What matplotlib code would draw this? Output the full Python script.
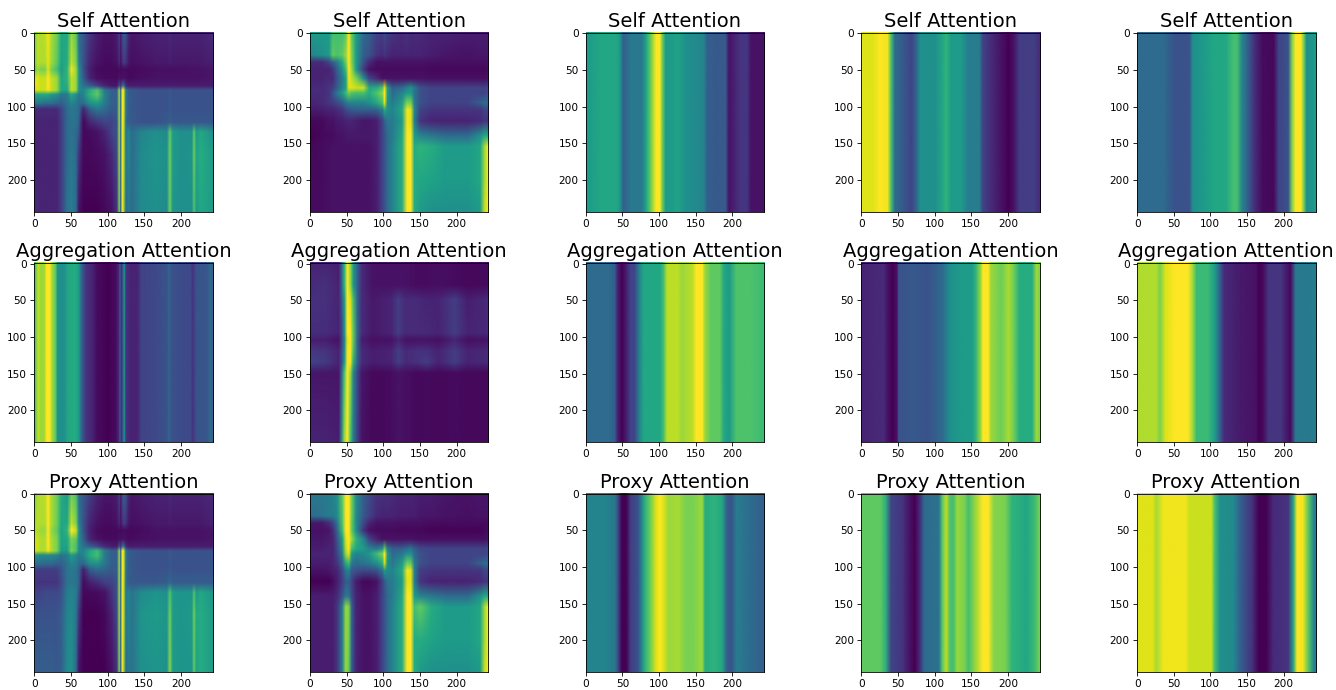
import numpy as np
import matplotlib
matplotlib.use("Agg")
import matplotlib.pyplot as plt
from matplotlib.image import NonUniformImage

titles = ["Self Attention", "Aggregation Attention", "Proxy Attention"]

# paneles con estructura 2D (columna 0 y 1): x, y y valores
xa = [0,4,8,14,18,22,30,36,44,50,56,60,66,75,85,95,105,112,115,117,119,121,124,128,132,145,165,180,184,188,200,214,217,220,226,243]
ya = [0,40,50,62,72,78,84,96,104,122,135,165,243]
self_a = [
    [.80,.90,.88,.90,.98,.88,.78,.60,.60,.85,.75,.35,.28,.15,.08,.05,.05,.08,.20,.08,.20,.30,.25,.10,.06,.08,.10,.10,.12,.10,.10,.10,.10,.10,.10,.12],
    [.80,.90,.88,.88,.96,.86,.75,.58,.62,.90,.80,.42,.26,.10,.05,.03,.03,.05,.12,.05,.12,.18,.15,.06,.04,.05,.07,.07,.08,.07,.07,.07,.07,.07,.07,.09],
    [.75,.85,.80,.80,.95,.80,.70,.55,.65,.98,.85,.50,.25,.08,.03,.02,.02,.02,.03,.02,.03,.03,.03,.02,.02,.03,.04,.04,.04,.04,.04,.05,.05,.05,.05,.06],
    [.95,.95,.92,.92,1.0,.92,.85,.60,.65,.90,.85,.50,.30,.10,.04,.03,.03,.03,.05,.04,.05,.05,.04,.03,.03,.04,.05,.05,.05,.05,.05,.05,.05,.05,.05,.06],
    [.95,.95,.92,.92,1.0,.92,.85,.60,.62,.90,.85,.50,.38,.30,.20,.10,.06,.06,.25,.15,.35,.40,.12,.08,.08,.08,.08,.08,.08,.08,.08,.08,.08,.08,.08,.08],
    [.90,.95,.92,.92,.98,.92,.85,.60,.60,.90,.85,.50,.45,.62,.72,.42,.30,.30,.85,.35,1.0,.95,.40,.30,.28,.25,.25,.25,.28,.25,.25,.25,.25,.25,.25,.25],
    [.60,.60,.60,.60,.60,.55,.50,.40,.40,.60,.50,.40,.45,.65,.75,.45,.30,.30,.85,.35,1.0,.95,.40,.30,.28,.25,.25,.25,.28,.25,.25,.25,.25,.25,.25,.25],
    [.38,.38,.38,.35,.35,.35,.32,.30,.38,.45,.42,.35,.35,.50,.55,.42,.30,.30,.85,.35,1.0,.95,.38,.30,.28,.25,.25,.25,.28,.25,.25,.25,.25,.25,.25,.25],
    [.12,.12,.12,.12,.12,.12,.12,.20,.35,.40,.38,.35,.10,.30,.40,.35,.28,.30,.85,.35,1.0,.95,.38,.30,.28,.25,.25,.25,.28,.25,.25,.25,.25,.25,.25,.25],
    [.10,.10,.10,.10,.10,.10,.10,.18,.35,.38,.38,.30,.02,.10,.15,.20,.20,.25,.85,.35,1.0,.92,.35,.30,.28,.25,.25,.28,.30,.28,.28,.28,.28,.28,.28,.28],
    [.10,.10,.10,.10,.10,.10,.10,.18,.35,.38,.35,.25,.02,.03,.05,.10,.20,.25,.85,.35,1.0,.90,.40,.45,.35,.45,.50,.48,.75,.55,.50,.50,.75,.55,.60,.50],
    [.10,.10,.10,.10,.10,.10,.10,.18,.35,.40,.35,.15,.02,.02,.03,.05,.12,.22,.85,.35,1.0,.90,.40,.45,.35,.48,.52,.50,.78,.55,.50,.52,.78,.58,.62,.55],
    [.12,.12,.10,.10,.10,.10,.10,.18,.38,.42,.35,.05,.00,.00,.00,.02,.05,.15,.80,.30,1.0,.85,.35,.40,.35,.48,.50,.48,.78,.52,.50,.50,.72,.55,.60,.55],
]
proxy_a = [
    [.80,.88,.88,.90,1.0,.88,.78,.62,.55,.78,.72,.35,.28,.18,.10,.06,.06,.08,.20,.08,.20,.32,.25,.10,.06,.08,.10,.10,.12,.10,.10,.10,.10,.10,.10,.12],
    [.85,.90,.88,.88,1.0,.88,.78,.60,.60,.90,.80,.42,.26,.10,.05,.03,.03,.05,.12,.05,.12,.18,.15,.06,.04,.05,.07,.07,.08,.07,.07,.07,.07,.07,.07,.09],
    [.88,.88,.85,.85,1.0,.85,.75,.58,.65,1.0,.92,.50,.25,.08,.03,.02,.02,.02,.03,.02,.03,.03,.03,.02,.02,.03,.05,.05,.05,.05,.05,.05,.05,.05,.05,.06],
    [.92,.92,.88,.88,1.0,.88,.80,.58,.60,.80,.75,.48,.32,.10,.05,.03,.03,.03,.05,.04,.05,.05,.04,.03,.03,.04,.05,.05,.05,.05,.05,.05,.05,.05,.05,.06],
    [.92,.92,.88,.88,1.0,.88,.80,.58,.58,.78,.72,.48,.38,.30,.22,.12,.08,.08,.25,.15,.35,.40,.12,.08,.08,.08,.08,.08,.08,.08,.08,.08,.08,.08,.08,.08],
    [.90,.92,.88,.88,.98,.88,.80,.55,.55,.80,.72,.48,.45,.60,.68,.42,.30,.30,.85,.35,1.0,.95,.40,.30,.28,.25,.25,.25,.28,.25,.25,.25,.25,.25,.25,.25],
    [.50,.50,.48,.48,.48,.48,.45,.38,.42,.55,.48,.40,.45,.62,.70,.42,.30,.30,.85,.35,1.0,.95,.40,.30,.28,.25,.25,.25,.28,.25,.25,.25,.25,.25,.25,.25],
    [.35,.35,.35,.33,.33,.33,.30,.30,.38,.45,.42,.35,.32,.48,.50,.40,.30,.30,.85,.35,1.0,.95,.38,.30,.28,.25,.25,.25,.28,.25,.25,.25,.25,.25,.25,.25],
    [.18,.18,.18,.18,.18,.18,.18,.25,.38,.40,.38,.32,.08,.28,.35,.32,.28,.30,.85,.35,1.0,.95,.38,.30,.28,.25,.25,.25,.28,.25,.25,.25,.25,.25,.25,.25],
    [.15,.15,.15,.15,.15,.15,.15,.22,.38,.40,.38,.30,.03,.08,.12,.18,.20,.25,.85,.35,1.0,.92,.35,.30,.28,.28,.28,.30,.35,.30,.30,.30,.30,.30,.30,.30],
    [.20,.20,.20,.22,.22,.22,.22,.25,.42,.45,.42,.25,.02,.02,.03,.05,.15,.25,.85,.35,1.0,.90,.40,.45,.38,.48,.52,.50,.72,.55,.52,.52,.72,.55,.60,.52],
    [.25,.25,.25,.25,.25,.25,.25,.30,.45,.48,.40,.15,.00,.00,.00,.02,.10,.22,.85,.35,1.0,.90,.40,.45,.38,.52,.55,.52,.78,.55,.52,.55,.78,.60,.62,.55],
    [.30,.30,.30,.30,.30,.30,.28,.30,.48,.50,.35,.05,.00,.00,.00,.00,.05,.15,.80,.30,1.0,.85,.35,.40,.38,.50,.52,.50,.82,.55,.52,.52,.75,.58,.62,.55],
]

xb = [0,15,25,30,36,43,48,52,56,62,72,80,90,98,101,105,112,125,132,137,142,150,165,185,215,232,238,243]
yb = [0,30,40,50,62,75,82,95,105,120,140,155,200,243]
self_b = [
    [.55,.55,.55,.70,.70,.70,.75,1.0,.75,.55,.35,.30,.20,.18,.22,.18,.15,.12,.15,.12,.12,.12,.10,.10,.08,.08,.08,.08],
    [.45,.50,.55,.75,.72,.75,.85,1.0,.80,.55,.30,.25,.15,.12,.15,.12,.10,.10,.10,.10,.10,.10,.08,.06,.05,.06,.06,.06],
    [.12,.12,.20,.30,.42,.60,.78,1.0,.80,.55,.25,.12,.05,.05,.05,.05,.05,.05,.05,.05,.05,.05,.04,.04,.04,.04,.04,.04],
    [.10,.10,.10,.15,.30,.50,.68,1.0,.85,.55,.18,.05,.03,.03,.03,.03,.03,.03,.03,.03,.03,.03,.02,.02,.02,.02,.02,.03],
    [.10,.10,.12,.12,.25,.42,.58,.98,.90,.80,.50,.20,.12,.05,.05,.05,.05,.05,.05,.05,.05,.05,.04,.04,.04,.04,.04,.05],
    [.12,.12,.15,.18,.30,.45,.58,.95,.95,.92,.92,.60,.62,.72,.95,.55,.30,.35,.45,.50,.40,.25,.20,.20,.20,.20,.20,.22],
    [.12,.12,.15,.25,.40,.55,.68,.78,.72,.70,.70,.62,.72,.82,1.0,.55,.35,.45,.55,.55,.38,.25,.20,.20,.20,.20,.20,.22],
    [.10,.12,.15,.18,.22,.30,.38,.45,.45,.45,.45,.50,.60,.70,.95,.50,.42,.55,.80,.78,.40,.25,.20,.20,.20,.30,.35,.35],
    [.07,.08,.10,.10,.12,.15,.22,.25,.28,.30,.30,.30,.32,.42,.60,.50,.45,.60,.98,.95,.45,.20,.15,.15,.15,.15,.20,.20],
    [.02,.02,.05,.05,.07,.08,.09,.10,.10,.08,.06,.06,.08,.20,.30,.40,.42,.55,.98,.95,.42,.15,.10,.10,.10,.12,.15,.15],
    [.00,.02,.03,.03,.05,.05,.06,.07,.07,.07,.07,.07,.08,.20,.25,.35,.42,.60,1.0,1.0,.55,.45,.40,.35,.35,.50,.60,.60],
    [.02,.03,.04,.05,.05,.05,.05,.05,.05,.05,.05,.05,.08,.20,.25,.35,.45,.62,1.0,1.0,.62,.65,.62,.55,.55,.60,.85,1.0],
    [.03,.03,.04,.05,.05,.05,.05,.05,.05,.05,.05,.05,.08,.20,.25,.35,.45,.62,1.0,1.0,.62,.60,.58,.55,.55,.60,.85,1.0],
    [.03,.03,.04,.05,.05,.05,.05,.05,.05,.05,.05,.05,.08,.20,.25,.35,.45,.62,1.0,1.0,.62,.55,.50,.50,.50,.55,.90,1.0],
]
proxy_b = [
    [.40,.40,.42,.45,.50,.75,1.0,1.0,.78,.50,.30,.22,.15,.14,.14,.14,.12,.10,.10,.10,.10,.08,.08,.06,.05,.06,.06,.06],
    [.35,.38,.42,.42,.48,.72,1.0,1.0,.78,.48,.28,.20,.12,.10,.10,.10,.10,.08,.08,.08,.08,.06,.06,.05,.04,.05,.05,.05],
    [.06,.06,.12,.20,.38,.72,1.0,1.0,.75,.48,.22,.10,.05,.05,.05,.05,.05,.04,.04,.04,.04,.04,.03,.03,.03,.03,.03,.03],
    [.05,.05,.06,.12,.32,.68,1.0,1.0,.75,.50,.15,.05,.03,.03,.03,.03,.03,.02,.02,.02,.02,.02,.01,.01,.01,.01,.02,.03],
    [.06,.06,.08,.10,.25,.55,.95,1.0,.85,.65,.45,.20,.10,.05,.05,.05,.05,.05,.05,.05,.04,.04,.04,.04,.04,.04,.04,.05],
    [.08,.08,.10,.10,.22,.48,.90,1.0,.70,.60,.55,.45,.40,.50,.75,.40,.30,.30,.35,.38,.30,.22,.20,.20,.20,.20,.20,.22],
    [.10,.10,.10,.10,.20,.42,.85,.95,.55,.45,.48,.52,.68,.80,1.0,.55,.35,.40,.50,.50,.35,.25,.20,.20,.20,.20,.20,.22],
    [.08,.08,.08,.10,.15,.32,.62,.68,.40,.35,.38,.42,.50,.62,.92,.50,.40,.55,.78,.75,.40,.25,.20,.20,.20,.30,.35,.35],
    [.05,.05,.06,.08,.10,.22,.40,.45,.28,.25,.22,.22,.25,.38,.55,.48,.45,.60,.98,.95,.42,.18,.15,.15,.15,.15,.20,.20],
    [.00,.00,.00,.03,.08,.18,.30,.30,.20,.08,.02,.02,.05,.18,.28,.38,.42,.55,.95,.95,.42,.15,.10,.10,.10,.12,.15,.15],
    [.08,.08,.08,.08,.12,.25,.40,.38,.22,.10,.05,.05,.08,.20,.25,.35,.42,.60,1.0,1.0,.55,.45,.40,.35,.35,.50,.60,.60],
    [.08,.08,.08,.08,.15,.42,.85,.80,.30,.10,.05,.05,.08,.20,.25,.35,.45,.62,1.0,1.0,.70,.75,.62,.55,.55,.60,.85,1.0],
    [.08,.08,.08,.08,.15,.42,.85,.78,.30,.10,.05,.05,.08,.20,.25,.35,.45,.62,1.0,1.0,.62,.62,.58,.55,.55,.60,.85,1.0],
    [.08,.08,.08,.08,.15,.42,.85,.75,.30,.10,.05,.05,.08,.20,.25,.35,.45,.62,1.0,1.0,.62,.55,.50,.50,.50,.55,.90,1.0],
]

xc = [0,20,38,42,46,50,54,58,64,70,85,110,120,130,145,158,175,197,215,243]
yc = [0,30,50,95,105,120,135,150,243]
agg_b = [
    [.10,.10,.08,.30,.65,1.0,.85,.55,.30,.12,.05,.05,.05,.05,.03,.03,.04,.03,.02,.03],
    [.12,.14,.10,.30,.65,1.0,.85,.55,.30,.12,.05,.05,.05,.05,.03,.03,.04,.03,.02,.03],
    [.14,.14,.10,.25,.55,1.0,.95,.70,.30,.12,.07,.10,.18,.12,.12,.10,.10,.18,.08,.12],
    [.13,.13,.10,.20,.50,1.0,1.0,.75,.32,.12,.07,.10,.18,.12,.12,.12,.10,.18,.10,.12],
    [.08,.08,.05,.18,.45,.95,1.0,.75,.30,.08,.04,.05,.10,.05,.05,.05,.04,.10,.04,.05],
    [.16,.15,.10,.22,.50,.98,1.0,.72,.30,.12,.08,.10,.18,.12,.14,.14,.10,.18,.10,.12],
    [.20,.17,.10,.22,.55,.98,1.0,.65,.30,.12,.08,.10,.18,.12,.14,.18,.10,.18,.10,.12],
    [.06,.06,.06,.32,.72,1.0,.85,.48,.20,.06,.02,.03,.05,.04,.02,.03,.02,.03,.02,.02],
    [.10,.10,.08,.45,.85,1.0,.72,.42,.18,.05,.02,.03,.05,.04,.02,.03,.02,.03,.02,.02],
]

# paneles de franjas: perfil por columna, constante en y
agg_a_x = [0,3,5,8,12,14,16,20,24,28,31,40,45,55,60,64,70,78,85,100,110,114,116,118,120,122,124,130,140,145,165,180,183,186,200,212,215,220,235,240,243]
agg_a_v = [.70,.85,.90,.85,.85,.90,1.0,1.0,.85,.75,.50,.50,.60,.62,.55,.30,.15,.10,.03,.00,.03,.10,.30,.12,.30,.50,.15,.10,.10,.20,.22,.25,.33,.25,.23,.22,.15,.25,.27,.35,.30]

self_c_x = [0,20,40,45,50,60,75,80,85,90,95,100,103,108,115,125,135,150,160,165,180,190,195,200,210,220,225,243]
self_c_v = [.55,.60,.60,.55,.30,.40,.40,.55,.70,.85,1.0,1.0,.80,.55,.55,.58,.50,.48,.45,.30,.28,.28,.05,.08,.15,.15,.05,.05]
self_d_x = [0,15,25,35,40,45,60,68,75,80,100,110,115,122,135,145,160,165,180,190,200,207,215,235,243]
self_d_v = [.95,.95,1.0,.98,.70,.35,.25,.20,.35,.50,.50,.60,.65,.55,.55,.42,.42,.20,.10,.05,.00,.05,.18,.18,.12]
self_e_x = [0,20,35,50,70,75,90,105,120,130,135,142,150,160,170,185,192,205,210,215,222,226,230,243]
self_e_v = [.35,.35,.35,.25,.25,.50,.55,.60,.60,.70,.70,.45,.30,.12,.03,.02,.20,.25,.80,1.0,1.0,.80,.50,.55]

agg_c_x = [0,30,38,42,48,52,60,65,72,78,100,105,110,125,130,145,150,158,162,170,182,188,195,205,225,243]
agg_c_v = [.35,.35,.30,.10,.00,.05,.20,.20,.45,.60,.60,.70,.90,.90,.85,.90,1.0,1.0,.85,.75,.75,.60,.55,.72,.72,.68]
agg_d_x = [0,30,35,42,48,50,70,90,110,120,135,150,155,162,165,172,176,190,200,207,215,232,238,243]
agg_d_v = [.10,.12,.05,.00,.05,.25,.28,.25,.35,.50,.55,.55,.65,.85,1.0,1.0,.85,.78,.87,.78,.62,.62,.85,.80]
agg_e_x = [0,25,30,38,50,68,75,80,95,105,112,118,140,160,165,170,178,195,205,208,215,243]
agg_e_v = [.88,.88,.80,.95,1.0,1.0,.85,.68,.68,.55,.30,.12,.07,.05,.00,.02,.15,.15,.05,.03,.40,.42]

proxy_c_x = [0,25,38,42,48,54,60,70,75,80,88,95,100,105,112,125,135,145,158,162,175,185,192,198,205,225,243]
proxy_c_v = [.45,.45,.40,.25,.00,.00,.18,.25,.45,.65,.80,.95,1.0,.95,.85,.87,.80,.80,.85,.62,.65,.60,.30,.25,.42,.35,.30]
proxy_d_x = [0,25,32,40,55,65,72,78,85,105,110,115,120,125,130,140,145,155,165,172,180,195,205,225,235,243]
proxy_d_v = [.75,.75,.65,.20,.15,.05,.00,.10,.35,.38,.75,.90,.72,.70,.85,.80,.70,.85,1.0,1.0,.82,.80,.65,.60,.68,.80]
proxy_e_x = [0,20,25,35,65,70,85,100,105,112,130,140,155,165,175,185,205,212,217,225,232,240,243]
proxy_e_v = [.95,.95,.87,.98,.98,.92,.92,.92,.70,.50,.48,.30,.15,.00,.00,.12,.15,.60,1.0,.98,.75,.45,.42]

y_franja = [0, 243]
franja = lambda x, v: (x, y_franja, [v, v])

paneles = [
    [(xa, ya, self_a), (xb, yb, self_b), franja(self_c_x, self_c_v), franja(self_d_x, self_d_v), franja(self_e_x, self_e_v)],
    [franja(agg_a_x, agg_a_v), (xc, yc, agg_b), franja(agg_c_x, agg_c_v), franja(agg_d_x, agg_d_v), franja(agg_e_x, agg_e_v)],
    [(xa, ya, proxy_a), (xb, yb, proxy_b), franja(proxy_c_x, proxy_c_v), franja(proxy_d_x, proxy_d_v), franja(proxy_e_x, proxy_e_v)],
]

W, H = 1336, 690
lefts = [34, 309.7, 585.5, 861, 1136.8]  # pixeles
tops = [33, 263.3, 493.5]
size = 178.7

fig = plt.figure(figsize=(W/100, H/100), dpi=100)
for i in range(3):
    for j in range(5):
        ax = fig.add_axes([lefts[j]/W, 1-(tops[i]+size)/H, size/W, size/H])
        x, y, z = paneles[i][j]
        im = NonUniformImage(ax, interpolation='bilinear', cmap='viridis')
        im.set_data(x, y, np.array(z))
        im.set_clim(0, 1)
        ax.add_image(im)
        ax.set_xlim(-0.5, 243.5)
        ax.set_ylim(243.5, -0.5)
        ax.set_xticks([0, 50, 100, 150, 200])
        ax.set_yticks([0, 50, 100, 150, 200])
        ax.tick_params(labelsize=7.6, length=2.6, width=0.6, pad=2.4)
        for s in ax.spines.values():
            s.set_linewidth(0.6)
        ax.set_title(titles[i], fontsize=14, pad=4.2)
fig.savefig("out.png", dpi=100)
